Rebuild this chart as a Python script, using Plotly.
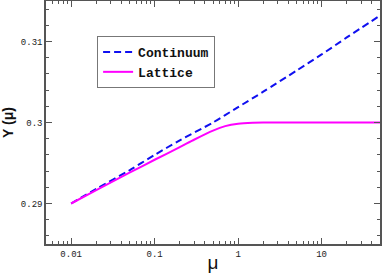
import plotly.graph_objects as go

# Data
mu_cont = [0.01, 0.02, 0.05, 0.1, 0.2, 0.5, 1, 2, 5, 10, 20, 50]
y_cont = [0.2900, 0.2918, 0.2941, 0.2960, 0.2978, 0.3000, 0.3019, 0.3038, 0.3064, 0.3084, 0.3105, 0.3132]

mu_latt = [0.01, 0.02, 0.05, 0.1, 0.2, 0.3, 0.5, 0.7, 1, 1.5, 2, 5, 10, 50]
y_latt = [0.2900, 0.29165, 0.2938, 0.2954, 0.29695, 0.2979, 0.2990, 0.29955, 0.29985, 0.29997, 0.3000, 0.3000, 0.3000, 0.3000]

x_tickvals = [0.01, 0.1, 1, 10]
x_ticktext = ["0.01", "0.1", "1", "10"]
y_tickvals = [0.29, 0.30, 0.31]
y_ticktext = ["0.29", "0.3", "0.31"]
x_minor = [m * 10 ** e for e in (-3, -2, -1, 0, 1) for m in range(2, 10) if 0.005 <= m * 10 ** e <= 50]

fig = go.Figure()
fig.add_trace(go.Scatter(x=mu_cont, y=y_cont, mode="lines", name="<b>Continuum</b>",
                         line=dict(color="#1010f0", width=2, dash="7px,4px", shape="spline", smoothing=0.8)))
fig.add_trace(go.Scatter(x=mu_latt, y=y_latt, mode="lines", name="<b>Lattice</b>",
                         line=dict(color="#ff00ff", width=2, shape="spline", smoothing=0.8)))

tickfont = dict(family="Liberation Mono", size=9, color="#222")
axcommon = dict(showline=True, linecolor="#555", linewidth=1.5, mirror="ticks",
                ticks="inside", ticklen=6, tickwidth=1, tickcolor="#555",
                showgrid=False, zeroline=False, tickfont=tickfont, automargin=False)

fig.update_xaxes(type="log", range=[-2.301, 1.699], tickmode="array",
                 tickvals=x_tickvals, ticktext=x_ticktext,
                 minor=dict(tickmode="array", tickvals=x_minor, ticks="inside",
                            ticklen=3, tickcolor="#555", showgrid=False),
                 title=dict(text="μ", font=dict(family="Liberation Sans", size=19, color="#111"),
                            standoff=0),
                 **axcommon)
fig.update_yaxes(range=[0.285, 0.315], tickmode="array",
                 tickvals=y_tickvals, ticktext=y_ticktext,
                 minor=dict(dtick=0.002, tick0=0.28, ticks="inside", ticklen=3,
                            tickcolor="#555", showgrid=False),
                 title=dict(text="<b>Y (μ)</b>", font=dict(family="Liberation Sans", size=14, color="#111"),
                            standoff=6),
                 **axcommon)

fig.update_layout(
    width=382, height=273,
    margin=dict(l=46, r=2, t=1, b=29, autoexpand=False),
    plot_bgcolor="white", paper_bgcolor="white",
    legend=dict(x=0.153, y=0.856, xanchor="left", yanchor="top",
                bordercolor="#777", borderwidth=1, bgcolor="white",
                font=dict(family="Liberation Mono", size=13, color="#111"),
                tracegroupgap=0, itemwidth=30),
    showlegend=True,
)

fig.write_html("out.html", config={"displayModeBar": False},
               post_script="document.body.style.margin='0';document.body.style.padding='0';")
